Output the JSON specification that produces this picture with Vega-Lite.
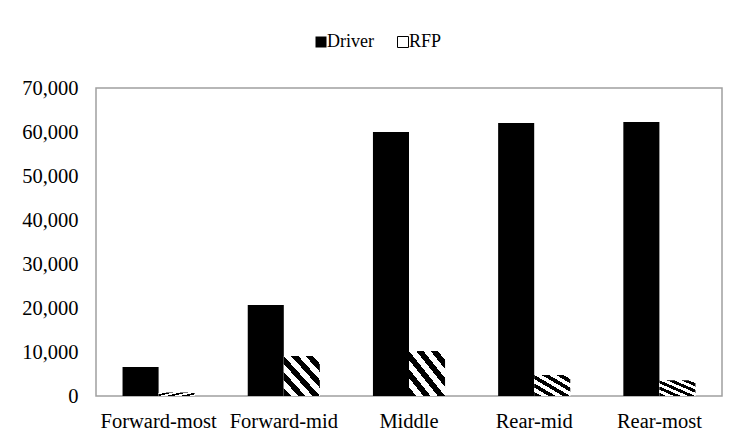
{
  "$schema": "https://vega.github.io/schema/vega-lite/v6.json",
  "autosize": {"type": "none"},
  "width": 626,
  "height": 308,
  "padding": {"left": 96, "top": 88, "right": 16, "bottom": 49},
  "background": "white",
  "config": {
    "view": {"stroke": "#a0a0a0", "strokeWidth": 1.5},
    "font": "Liberation Serif",
    "axis": {"labelFont": "Liberation Serif, Times New Roman, serif", "labelFontSize": 20.5, "labelColor": "black", "grid": false, "ticks": false, "domain": false},
    "legend": {"labelFont": "Liberation Serif, Times New Roman, serif", "labelFontSize": 18, "labelColor": "black"}
  },
  "data": {
    "values": [
      {"Position": "Forward-most", "Series": "Driver", "Value": 6600},
      {"Position": "Forward-mid", "Series": "Driver", "Value": 20700},
      {"Position": "Middle", "Series": "Driver", "Value": 60000},
      {"Position": "Rear-mid", "Series": "Driver", "Value": 62050},
      {"Position": "Rear-most", "Series": "Driver", "Value": 62300},
      {"Position": "Forward-most", "Series": "RFP", "Value": 800},
      {"Position": "Forward-mid", "Series": "RFP", "Value": 9100},
      {"Position": "Middle", "Series": "RFP", "Value": 10200},
      {"Position": "Rear-mid", "Series": "RFP", "Value": 4800},
      {"Position": "Rear-most", "Series": "RFP", "Value": 3600}
    ]
  },
  "encoding": {
    "x": {
      "field": "Position",
      "type": "nominal",
      "sort": ["Forward-most", "Forward-mid", "Middle", "Rear-mid", "Rear-most"],
      "scale": {"paddingInner": 0.424, "paddingOuter": 0.212},
      "axis": {"title": null, "labelAngle": 0, "labelPadding": 15}
    },
    "xOffset": {
      "field": "Series",
      "type": "nominal",
      "scale": {"domain": ["Driver", "RFP"], "paddingInner": 0, "paddingOuter": 0}
    },
    "y": {
      "field": "Value",
      "type": "quantitative",
      "scale": {"domain": [0, 70000], "nice": false},
      "axis": {"title": null, "values": [0, 10000, 20000, 30000, 40000, 50000, 60000, 70000], "format": ",.0f", "labelPadding": 18}
    }
  },
  "layer": [
    {
      "mark": {"type": "bar", "strokeWidth": 0},
      "encoding": {
        "fill": {
          "field": "Series",
          "type": "nominal",
          "scale": {"domain": ["Driver", "RFP"], "range": ["black", "white"]},
          "legend": {
            "title": null,
            "orient": "none",
            "direction": "horizontal",
            "legendX": 216,
            "legendY": -55,
            "symbolType": "square",
            "symbolSize": 121,
            "symbolStrokeWidth": 0,
            "labelOffset": -3,
            "columnPadding": 20,
            "encode": {
              "symbols": {
                "update": {
                  "fill": {"signal": "datum.value === 'RFP' ? {gradient: 'linear', x1: 0, y1: 1, x2: 1, y2: 0, stops: [{offset: 0, color: 'white'}, {offset: 0.45, color: 'white'}, {offset: 0.45, color: 'black'}, {offset: 1, color: 'black'}]} : 'black'"},
                  "stroke": {"value": "black"},
                  "strokeWidth": {"signal": "datum.value === 'RFP' ? 1 : 0"}
                }
              }
            }
          }
        }
      }
    },
    {
      "transform": [{"filter": "datum.Series === 'RFP'"}],
      "mark": {
        "type": "bar",
        "strokeWidth": 0,
        "fill": {
          "gradient": "linear",
          "x1": 0, "y1": 1, "x2": 1, "y2": 0,
          "stops": [
            {"offset": 0.0, "color": "black"}, {"offset": 0.1, "color": "black"},
            {"offset": 0.1, "color": "white"}, {"offset": 0.2, "color": "white"},
            {"offset": 0.2, "color": "black"}, {"offset": 0.3, "color": "black"},
            {"offset": 0.3, "color": "white"}, {"offset": 0.4, "color": "white"},
            {"offset": 0.4, "color": "black"}, {"offset": 0.5, "color": "black"},
            {"offset": 0.5, "color": "white"}, {"offset": 0.6, "color": "white"},
            {"offset": 0.6, "color": "black"}, {"offset": 0.7, "color": "black"},
            {"offset": 0.7, "color": "white"}, {"offset": 0.8, "color": "white"},
            {"offset": 0.8, "color": "black"}, {"offset": 0.9, "color": "black"},
            {"offset": 0.9, "color": "white"}, {"offset": 1.0, "color": "white"}
          ]
        }
      }
    }
  ]
}
